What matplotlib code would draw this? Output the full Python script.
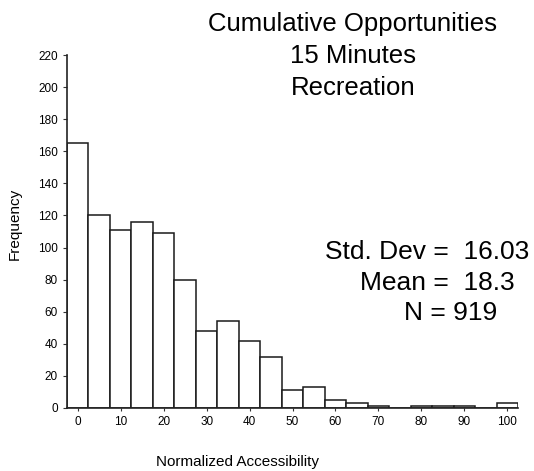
import numpy as np
import matplotlib
matplotlib.use("Agg")
import matplotlib.pyplot as plt

plt.rcParams['font.family'] = ['Liberation Sans', 'DejaVu Sans']

# histogram of normalized accessibility, bins of width 5 centred on 0..100
bin_centers = [0, 5, 10, 15, 20, 25, 30, 35, 40, 45, 50,
               55, 60, 65, 70, 75, 80, 85, 90, 95, 100]
counts = [165, 120, 111, 116, 109, 80, 48, 54, 42, 32, 11,
          13, 5, 3, 1, 0, 1, 1, 1, 0, 3]
x_ticks = [0, 10, 20, 30, 40, 50, 60, 70, 80, 90, 100]
y_ticks = [0, 20, 40, 60, 80, 100, 120, 140, 160, 180, 200, 220]

title_lines = "Cumulative Opportunities\n15 Minutes\nRecreation"
stats = ["Std. Dev =  16.03", "Mean =  18.3", "N = 919"]

W, H = 534, 471
fig = plt.figure(figsize=(W / 100, H / 100), dpi=100)
ax = fig.add_axes([67 / W, 1 - 408 / H, (518 - 67) / W, (408 - 55) / H])

ax.bar(bin_centers, counts, width=5, color='white', edgecolor='#1a1a1a',
       linewidth=1.1, align='center')

ax.set_xlim(-2.5, 102.5)
ax.set_ylim(0, 220)
ax.set_xticks(x_ticks)
ax.set_yticks(y_ticks)
ax.tick_params(axis='both', labelsize=8.5, length=3, width=0.8, color='#333333')
ax.tick_params(axis='x', length=2)
for s in ['top', 'right']:
    ax.spines[s].set_visible(False)
for s in ['left', 'bottom']:
    ax.spines[s].set_color('#222222')
    ax.spines[s].set_linewidth(1.2)

fig.text(15 / W, 1 - 224 / H, "Frequency", rotation=90, fontsize=11,
         ha='center', va='center')
fig.text(238 / W, 1 - 462 / H, "Normalized Accessibility", fontsize=11,
         ha='center', va='center')

fig.text(353 / W, 1 - 56 / H, title_lines, fontsize=18.5, ha='center',
         va='center', linespacing=1.4)

stat_x = [325, 360, 404]
stat_y = [252, 283, 313]
for txt, sx, sy in zip(stats, stat_x, stat_y):
    fig.text(sx / W, 1 - sy / H, txt, fontsize=19, ha='left', va='center')

fig.savefig("out.png", dpi=100)
